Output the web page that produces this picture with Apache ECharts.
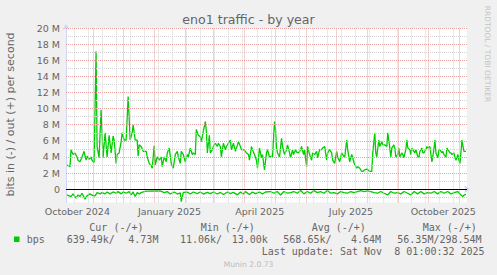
<!DOCTYPE html>
<html>
<head>
<meta charset="utf-8">
<script src="https://cdn.jsdelivr.net/npm/echarts/dist/echarts.min.js"></script>
<style>
html,body{margin:0;padding:0;background:#f0f0f0;}
#c{width:497px;height:275px;}
</style>
</head>
<body>
<div id="c"></div>
<script>
// ---- data (values in Mbit/s, x in days since graph start) ----
var startDate = Date.UTC(2024, 9, 4, 16, 48);
var spanDays = 400;

var outDays = [1,4,5,7,9,11,12,14,16,18,20,21,23,25,26,28,30,31,33,35,37,39,41,43,45,47,48,50,51,53,55,56,58,60,62,64,66,67,69,71,72,73,75,77,80,81,83,85,86,88,89,91,93,95,96,98,100,101,
103,105,107,109,111,112,114,115,117,119,121,122,124,126,127,129,130,132,134,135,137,139,140,141,143,144,146,147,149,151,152,154,155,157,159,160,162,164,165,167,169,170,172,174,175,177,179,180,182,183,185,186,188,190,191,193,195,196,198,200,201,
203,205,206,208,209,210,211,213,215,216,218,220,221,223,224,226,227,229,230,232,234,235,237,238,240,241,243,245,246,248,250,251,253,255,256,258,260,261,263,265,266,268,270,271,273,275,276,278,280,281,283,285,286,288,290,291,293,295,296,298,300,301,
303,305,306,308,309,310,312,313,315,316,318,320,321,323,324,325,327,328,329,331,332,333,335,336,337,339,340,341,343,344,345,347,348,349,351,352,353,355,356,357,359,360,361,363,364,365,367,368,369,371,372,373,375,376,377,379,380,381,383,384,385,387,388,389,391,392,393,395,396,397,399];
var outVals = [3.0,2.8,4.9,4.3,4.5,4.0,3.6,3.4,4.0,4.7,3.6,4.1,3.7,4.0,3.6,3.3,17.1,5.3,3.9,9.85,3.9,7.0,4.0,6.7,4.5,6.6,6.1,3.2,4.3,4.5,5.9,7.0,6.1,6.1,11.5,6.1,7.0,8.0,6.1,6.1,4.1,5.5,5.3,4.7,4.7,4.0,3.2,2.9,2.6,5.4,3.0,4.0,3.6,4.0,2.8,4.0,3.4,4.5,
5.1,3.2,2.6,4.3,4.7,4.0,3.2,4.7,4.3,3.4,4.3,4.0,5.1,4.3,4.5,4.3,7.4,6.7,6.5,5.9,7.2,8.4,7.2,4.5,6.7,4.5,4.9,5.3,5.7,5.3,5.7,5.3,4.0,5.7,4.9,5.3,5.7,6.1,4.9,5.7,4.7,5.1,5.9,5.3,4.9,4.9,4.7,4.5,4.3,3.6,5.3,4.9,4.3,3.6,2.6,5.1,3.9,4.3,2.4,4.5,4.9,
4.0,4.1,4.0,8.4,7.4,5.1,4.5,4.0,6.3,5.3,4.3,4.9,5.5,4.5,3.9,4.9,4.3,4.9,4.6,4.5,4.9,5.3,4.3,4.9,2.8,5.3,4.3,3.6,4.5,4.3,4.7,3.9,4.9,4.9,5.1,5.3,3.6,4.5,4.9,4.5,3.6,3.2,4.7,4.0,3.4,4.5,4.3,3.9,6.1,4.9,3.4,4.3,3.9,3.0,2.6,2.8,2.6,2.2,2.2,2.4,2.5,2.4,
2.2,2.2,4.5,7.0,4.5,4.0,6.1,5.3,5.9,5.5,5.5,5.3,7.0,5.1,4.0,5.1,5.5,5.1,4.0,4.3,5.1,4.0,4.5,4.3,3.9,4.9,6.1,5.1,4.9,4.3,5.1,4.7,4.5,4.9,4.0,3.9,4.7,5.1,4.5,4.5,4.9,5.3,5.1,5.3,4.3,3.4,4.9,6.1,4.5,3.9,4.9,4.9,4.5,4.7,4.3,4.0,5.1,4.9,4.5,4.5,4.3,4.5,3.9,3.6,4.3,3.6,3.2,6.1,5.3,4.7,4.7];

var inDays = [1,5,7,10,12,14,16,19,21,24,26,29,31,34,36,39,41,44,47,50,52,55,57,60,63,65,67,69,71,73,75,78,80,94,98,101,
104,108,111,114,115,117,121,124,127,131,134,137,141,144,147,151,154,157,161,164,167,171,174,177,179,183,186,189,193,196,199,
204,207.3,210.7,214,217.3,220.7,224,227.3,230.7,234,237.3,240.7,244,247.3,250.7,254,257.3,260.7,264,267.3,270.7,274,277.3,280.7,284,287.3,290.7,294,297.3,300.7,
304,307.3,310.7,314,317.3,320.7,324,327.3,330.7,334,337.3,340.7,344,347.3,350.7,354,357.3,360.7,364,367.3,370.7,374,377.3,380.7,384,387.3,390.7,394,395.7,397.3,399];
var inVals = [-0.71,-0.91,-0.58,-1.12,-0.71,-0.91,-0.5,-1.24,-0.83,-0.58,-0.75,-0.83,-0.42,-0.58,-0.42,-0.58,-0.34,-0.58,-0.34,-0.5,-0.3,-0.58,-0.34,-0.5,-0.3,-0.71,-0.34,-0.91,-0.42,-0.58,-0.42,-0.3,-0.25,-0.22,-0.42,-0.3,
-0.6,-0.35,-0.6,-0.45,-1.54,-0.4,-0.35,-0.6,-0.35,-0.55,-0.35,-0.6,-0.4,-0.55,-0.35,-0.6,-0.4,-0.65,-0.35,-0.55,-0.4,-0.7,-0.35,-0.6,-0.3,-0.65,-0.35,-0.55,-0.35,-0.6,-0.35,
-0.29,-0.5,-0.29,-0.71,-0.29,-0.5,-0.42,-0.29,-0.5,-0.17,-0.58,-0.29,-0.5,-0.17,-0.42,-0.29,-0.5,-0.17,-0.5,-0.42,-0.58,-0.29,-0.42,-0.5,-0.29,-0.42,-0.29,-0.17,-0.29,-0.2,
-0.29,-0.42,-0.5,-0.29,-0.5,-0.71,-0.29,-0.5,-0.42,-0.58,-0.29,-0.5,-0.71,-0.29,-0.58,-0.29,-0.58,-0.42,-0.5,-0.29,-0.58,-0.29,-0.5,-0.29,-0.58,-0.42,-0.29,-0.71,-0.91,-0.71,-0.64];

var yTickLabels = [0,2,4,6,8,10,12,14,16,18,20];
var yMinorLines = [-1,1,3,5,7,9,11,13,15,17,19];
var monthStarts = ['2024-11-01','2024-12-01','2025-01-01','2025-02-01','2025-03-01','2025-04-01','2025-05-01','2025-06-01','2025-07-01','2025-08-01','2025-09-01','2025-10-01','2025-11-01'];
var firstMinor = '2024-10-13';
var xLabelDates = ['2024-10-16','2025-01-16','2025-04-16','2025-07-16','2025-10-16'];
var xLabelTexts = ['October 2024','January 2025','April 2025','July 2025','October 2025'];

var legendHead = ['Cur (-/+)','Min (-/+)','Avg (-/+)','Max (-/+)'];
var legendVals = ['639.49k/','4.73M','11.06k/','13.00k','568.65k/','4.64M','56.35M/298.54M'];

// ---- helpers ----
function dayOf(s){ return (Date.parse(s + 'T00:00:00Z') - startDate) / 86400000; }
function pairs(xs, ys){ return xs.map(function(x,i){ return [x, ys[i]]; }); }

var minorC = '#d2d2d2', majorC = '#eba0a0';
var dash = [1,1];
var gridLines = [];
yMinorLines.forEach(function(v){ gridLines.push({yAxis:v, lineStyle:{color:minorC,type:dash,width:1}}); });
var m0 = dayOf(firstMinor);
for (var d = m0; d < spanDays; d += 14) gridLines.push({xAxis:d, lineStyle:{color:minorC,type:dash,width:1}});
yTickLabels.forEach(function(v){ if (v !== 0) gridLines.push({yAxis:v, lineStyle:{color:majorC,type:dash,width:1}}); });
monthStarts.forEach(function(s){ gridLines.push({xAxis:dayOf(s), lineStyle:{color:majorC,type:dash,width:1}}); });
gridLines.push({yAxis:0, lineStyle:{color:'#000000',type:'solid',width:1}});

var xLabelPos = xLabelDates.map(dayOf);

var fontC = '#666666';
var sans = '"DejaVu Sans"';
var mono = '"DejaVu Sans Mono"';
function txt(t, x, y, size, fam, color, align, rot){
  return {type:'text', x:x, y:y, rotation:rot||0, silent:true,
    style:{text:t, fill:color, font:size+'px '+fam, textAlign:align||'left', textVerticalAlign:'middle'}};
}

var graphics = [
  txt('eno1 traffic - by year', 248.5, 19.5, 12.6, sans, fontC, 'center'),
  txt('bits in (-) / out (+) per second', 10.5, 114.5, 11, sans, fontC, 'center', Math.PI/2),
  txt('RRDTOOL / TOBI OETIKER', 487, 54, 7.5, sans, '#c4c4c4', 'center', -Math.PI/2),
  txt('Munin 2.0.73', 248.5, 264, 7.6, sans, '#bbbbbb', 'center'),
  txt(legendHead[0], 89.3, 227.3, 10, mono, fontC),
  txt(legendHead[1], 200.7, 227.3, 10, mono, fontC),
  txt(legendHead[2], 311.7, 227.3, 10, mono, fontC),
  txt(legendHead[3], 422.7, 227.3, 10, mono, fontC),
  {type:'rect', shape:{x:14, y:236.5, width:5.5, height:5.5}, style:{fill:'#00cc00'}, silent:true},
  txt('bps', 26.7, 239.3, 10, mono, fontC),
  txt(legendVals[0], 66.7, 239.3, 10, mono, fontC),
  txt(legendVals[1], 128.3, 239.3, 10, mono, fontC),
  txt(legendVals[2], 180, 239.3, 10, mono, fontC),
  txt(legendVals[3], 231.7, 239.3, 10, mono, fontC),
  txt(legendVals[4], 283.3, 239.3, 10, mono, fontC),
  txt(legendVals[5], 351, 239.3, 10, mono, fontC),
  txt(legendVals[6], 397.3, 239.3, 10, mono, fontC),
  txt('Last update: Sat Nov', 261.7, 251.7, 10, mono, fontC),
  txt('8 01:00:32 2025', 394.3, 251.7, 10, mono, fontC)
];

var chart = echarts.init(document.getElementById('c'), null, {renderer:'svg', width:497, height:275});
chart.setOption({
  animation:false,
  backgroundColor:'#f0f0f0',
  grid:{left:66, top:28, width:401, height:174.5, show:true, backgroundColor:'#ffffff', borderWidth:0},
  xAxis:{
    type:'value', min:0, max:spanDays,
    splitLine:{show:false}, axisTick:{show:false},
    axisLine:{show:true, lineStyle:{color:'#cfd6f8', width:1}, symbol:['none','arrow'], symbolSize:[6,6], symbolOffset:[0,3]},
    axisLabel:{customValues:xLabelPos, color:fontC, fontFamily:'DejaVu Sans', fontSize:9.5, margin:4,
      formatter:function(v){ var i = xLabelPos.indexOf(v); return i >= 0 ? xLabelTexts[i] : ''; }}
  },
  yAxis:{
    type:'value', min:-1.65, max:20,
    splitLine:{show:false}, axisTick:{show:false},
    axisLine:{show:true, onZero:false, lineStyle:{color:'#cfd6f8', width:1}, symbol:['none','arrow'], symbolSize:[6,6], symbolOffset:[0,4]},
    axisLabel:{customValues:yTickLabels, color:fontC, fontFamily:'DejaVu Sans', fontSize:9.5, margin:6,
      formatter:function(v){ return v === 0 ? '0' : v + ' M'; }}
  },
  graphic:graphics,
  series:[
    {type:'line', data:[], z:1, silent:true,
      markLine:{silent:true, symbol:['none','none'], label:{show:false}, animation:false, data:gridLines}},
    {name:'in', type:'line', data:pairs(inDays, inVals), z:3, showSymbol:false, silent:true,
      lineStyle:{color:'#00cc00', width:1.3}},
    {name:'out', type:'line', data:pairs(outDays, outVals), z:3, showSymbol:false, silent:true,
      lineStyle:{color:'#00cc00', width:1.3}}
  ]
});
</script>
</body>
</html>
